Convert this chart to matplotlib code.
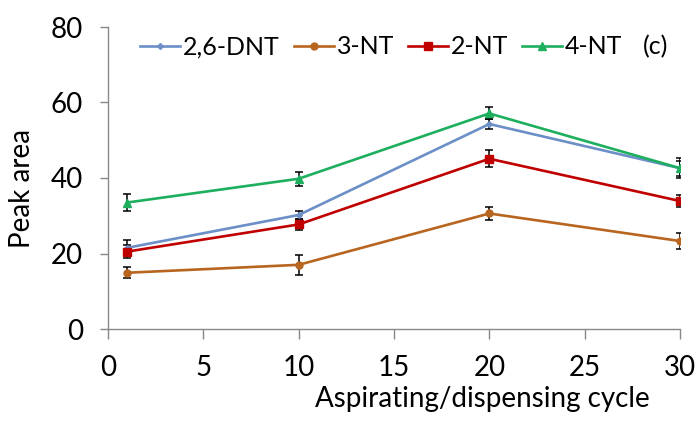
import matplotlib
matplotlib.use("Agg")
import matplotlib.pyplot as plt

plt.rcParams['font.family'] = ['Lato', 'DejaVu Sans']

cycles = [1, 10, 20, 30]
dnt26 = [21.5, 30.2, 54.3, 42.6]
dnt26_err = [2.0, 1.1, 1.4, 2.0]
nt3 = [14.9, 17.0, 30.6, 23.3]
nt3_err = [1.4, 2.6, 1.8, 2.1]
nt2 = [20.5, 27.7, 45.1, 33.9]
nt2_err = [1.8, 1.5, 2.3, 1.7]
nt4 = [33.5, 39.8, 57.1, 42.6]
nt4_err = [2.3, 1.9, 1.6, 2.6]

series = [
    ("2,6-DNT", dnt26, dnt26_err, "#6B8FC6", "D", 3),
    ("3-NT", nt3, nt3_err, "#B8651F", "o", 5),
    ("2-NT", nt2, nt2_err, "#C00000", "s", 5.5),
    ("4-NT", nt4, nt4_err, "#1DAF5E", "^", 6),
]

W, H = 699, 423
fig = plt.figure(figsize=(W / 100, H / 100), dpi=100)
ax = fig.add_axes([108 / W, 1 - 329 / H, (680 - 108) / W, (329 - 27) / H])

for label, y, err, color, marker, ms in series:
    ax.errorbar(cycles, y, yerr=err, color=color, marker=marker, markersize=ms,
                linewidth=1.9, ecolor="black", elinewidth=1.1, capsize=2.8,
                capthick=1.1, label=label, zorder=3)

ax.set_xlim(0, 30)
ax.set_ylim(0, 80)
ax.set_xticks([0, 5, 10, 15, 20, 25, 30])
ax.set_yticks([0, 20, 40, 60, 80])
for s in ("top", "right"):
    ax.spines[s].set_visible(False)
for s in ("left", "bottom"):
    ax.spines[s].set_color("#888888")
    ax.spines[s].set_linewidth(1.0)
ax.tick_params(axis="both", colors="#888888", labelcolor="black", labelsize=20,
               width=1.0)
ax.tick_params(axis="y", length=6, pad=12)
ax.tick_params(axis="x", length=7.5, pad=11)

fig.text(22 / W, 1 - 188 / H, "Peak area", rotation=90, fontsize=20,
         ha="center", va="center")
fig.text(650 / W, 1 - 407 / H, "Aspirating/dispensing cycle", fontsize=20,
         ha="right", va="baseline")

handles, labels = ax.get_legend_handles_labels()
handles = [h[0] for h in handles]
fig.legend(handles, labels, loc="center left", bbox_to_anchor=(140 / W, 1 - 47 / H),
           ncol=4, frameon=False, fontsize=18, handlelength=1.6,
           columnspacing=0.55, handletextpad=0.12, borderpad=0, borderaxespad=0)
fig.text(643 / W, 1 - 47 / H, "(c)", fontsize=18, ha="left", va="center")

fig.savefig("out.png", dpi=100)
